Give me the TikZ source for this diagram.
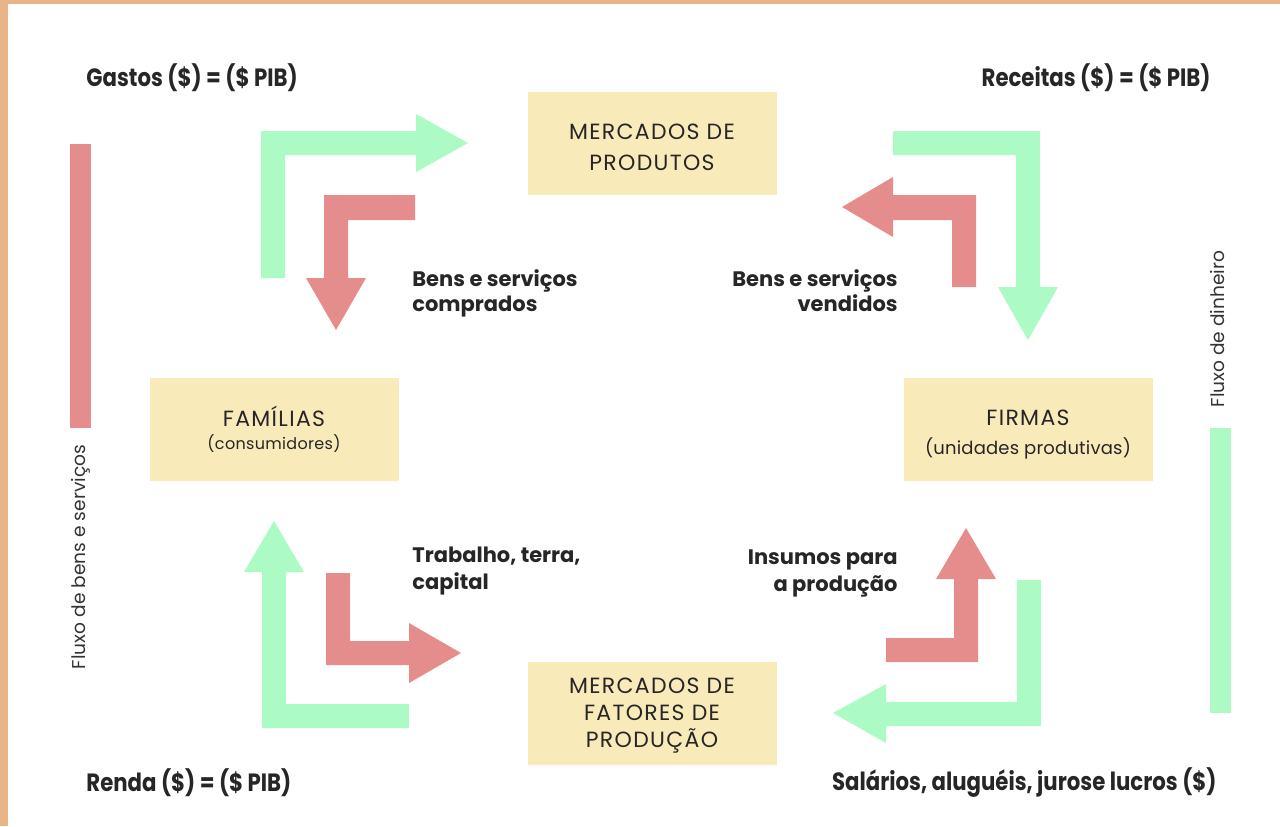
\documentclass[tikz,border=0pt]{standalone}
\usepackage{fontspec}
\setmainfont{Poppins}
\newfontfamily\boxfont[LetterSpace=6]{Poppins}
\newfontfamily\totalfont[FakeStretch=0.85]{Poppins}
\usetikzlibrary{positioning}
\definecolor{money}{RGB}{172,250,196}
\definecolor{goods}{RGB}{229,140,140}
\definecolor{market}{RGB}{249,234,186}
\definecolor{frame}{RGB}{232,180,136}

\begin{document}
\begin{tikzpicture}[x=0.5pt, y=-0.5pt,
    box/.style={fill=market, minimum width=124.5pt, minimum height=51.5pt, inner sep=0pt, align=center, text=black!85, font=\boxfont\fontsize{11}{13.5}\selectfont},
    total/.style={inner sep=0pt, text=black!85, font=\totalfont\bfseries\fontsize{12.5}{15}\selectfont},
    tag/.style={inner sep=0pt, text=black!85, font=\bfseries\fontsize{10.5}{12.5}\selectfont},
    side/.style={inner sep=0pt, rotate=90, text=black!80, font=\fontsize{9.3}{11}\selectfont},
    goodsflow/.style={fill=goods},
    moneyflow/.style={fill=money}]
    \useasboundingbox (0,0) rectangle (1280,826);
    \fill[frame] (0,0) rectangle (8,826);
    \fill[frame] (0,0) rectangle (1280,3.5);

    % markets and agents
    \node[box] (produtos) at (652,143) {\rule{0pt}{12.5pt}MERCADOS DE\\[2pt]PRODUTOS};
    \node[box] (familias) at (274,429) {FAMÍLIAS\\[-2pt]{\fontsize{8}{10}\selectfont\addfontfeature{LetterSpace=2}(consumidores)}};
    \node[box] (firmas)   at (1028,429) {\rule{0pt}{13.5pt}FIRMAS\\[1pt]{\fontsize{9}{11}\selectfont\addfontfeature{LetterSpace=1}(unidades produtivas)}};
    \node[box] (fatores)  at (652,713) {\rule{0pt}{10pt}MERCADOS DE\\FATORES DE\\PRODUÇÃO};

    % totals
    \node[total, anchor=west] (gastos)   at (86,78)   {Gastos (\$) = (\$ PIB)};
    \node[total, anchor=east] (receitas) at (1211,78) {Receitas (\$) = (\$ PIB)};
    \node[total, anchor=west] (renda)    at (86,783)  {Renda (\$) = (\$ PIB)};
    \node[total, anchor=east] (salarios) at (1217,783) {Salários, aluguéis, jurose lucros (\$)};

    % flow labels
    \node[tag, anchor=west, align=left]  (comprados) at (412,293) {Bens e serviços\\comprados};
    \node[tag, anchor=east, align=right] (vendidos)  at (898,291) {Bens e serviços\\vendidos};
    \node[tag, anchor=west, align=left]  (trabalho)  at (412,571) {Trabalho, terra,\\[1pt]capital};
    \node[tag, anchor=east, align=right] (insumos)   at (898,573) {Insumos para\\[1pt]a produção};

    % side legends
    \fill[goodsflow] (70,144) rectangle (91,428);
    \node[side] (bensflow) at (81,557) {Fluxo de bens e serviços};
    \fill[moneyflow] (1210,428) rectangle (1231,713);
    \node[side] (cashflow) at (1217,329) {Fluxo de dinheiro};

    % upper arrows
    \fill[moneyflow] (261,278) -- (261,131) -- (416,131) -- (416,114) -- (468,143) -- (416,172) -- (416,155) -- (285,155) -- (285,278) -- cycle;
    \fill[goodsflow] (415,195) -- (324,195) -- (324,278) -- (306,278) -- (336,330) -- (366,278) -- (348,278) -- (348,220) -- (415,220) -- cycle;
    \fill[moneyflow] (893,131) -- (1040,131) -- (1040,287) -- (1058,287) -- (1028,340) -- (998,287) -- (1016,287) -- (1016,155) -- (893,155) -- cycle;
    \fill[goodsflow] (976,287) -- (976,195) -- (893,195) -- (893,177) -- (842,207) -- (893,237) -- (893,220) -- (952,220) -- (952,287) -- cycle;

    % lower arrows
    \fill[moneyflow] (409,728) -- (262,728) -- (262,572) -- (244,572) -- (274,521) -- (304,572) -- (286,572) -- (286,704) -- (409,704) -- cycle;
    \fill[goodsflow] (326,573) -- (326,665) -- (409,665) -- (409,683) -- (461,653) -- (409,623) -- (409,641) -- (350,641) -- (350,573) -- cycle;
    \fill[goodsflow] (886,662) -- (978,662) -- (978,579) -- (996,579) -- (966,528) -- (936,579) -- (954,579) -- (954,638) -- (886,638) -- cycle;
    \fill[moneyflow] (1041,580) -- (1041,726) -- (886,726) -- (886,743) -- (833,713) -- (886,684) -- (886,702) -- (1017,702) -- (1017,580) -- cycle;
\end{tikzpicture}
\end{document}
